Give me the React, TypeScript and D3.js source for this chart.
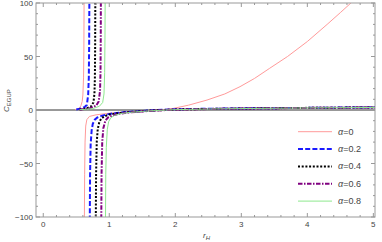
import React from "react";
import * as d3 from "d3";

type Pt = [number, number];

const xTicks = [0, 1, 2, 3, 4, 5];
const yTicks = [-100, -50, 0, 50, 100];
const legendLabels = ["α=0", "α=0.2", "α=0.4", "α=0.6", "α=0.8"];

// α=0
const a0Left: Pt[] = [[0.48, 0.3], [0.52, 1], [0.55, 2], [0.57, 4], [0.59, 8], [0.6, 14], [0.61, 30], [0.615, 55], [0.619, 110]];
const a0Right: Pt[] = [[0.622, -110], [0.627, -60], [0.633, -30], [0.643, -15], [0.66, -9], [0.7, -6], [0.8, -4.5], [1.0, -3], [1.2, -2.2], [1.4, -1.5], [1.6, -0.7], [1.77, 0], [1.97, 1.5], [2.2, 4.5], [2.48, 9.3], [2.75, 15], [2.98, 21.8], [3.2, 29.5], [3.43, 39], [3.7, 50], [4.0, 64], [4.3, 80], [4.5, 91], [4.66, 100], [4.72, 104]];
// α=0.2
const a2Left: Pt[] = [[0.5, 0.4], [0.58, 1.6], [0.63, 3], [0.66, 4.7], [0.68, 14], [0.69, 30], [0.695, 60], [0.699, 110]];
const a2Right: Pt[] = [[0.704, -110], [0.709, -60], [0.718, -32], [0.733, -19], [0.75, -13], [0.78, -9], [0.82, -7], [0.88, -5.5], [0.95, -4.3], [1.05, -3.2], [1.2, -2.2], [1.4, -1.3], [1.6, -0.5], [1.8, 0.2], [2.0, 0.6], [2.3, 1.0], [2.7, 1.3], [3.2, 1.6], [3.7, 1.8], [4.2, 2.1], [4.6, 2.3], [5.03, 2.5]];
// α=0.4
const a4Left: Pt[] = [[0.55, 0.5], [0.65, 1.5], [0.72, 3], [0.76, 7], [0.775, 15], [0.782, 30], [0.786, 60], [0.789, 110]];
const a4Right: Pt[] = [[0.795, -110], [0.8, -60], [0.81, -30], [0.825, -18], [0.85, -11], [0.88, -8], [0.92, -6], [1.0, -4.2], [1.1, -3.2], [1.25, -2.2], [1.45, -1.3], [1.65, -0.5], [1.85, 0.1], [2.1, 0.6], [2.5, 1.0], [3.0, 1.4], [3.5, 1.7], [4.0, 2.0], [4.5, 2.2], [5.03, 2.4]];
// α=0.6
const a6Left: Pt[] = [[0.55, 0.3], [0.7, 1.5], [0.8, 4], [0.84, 8], [0.86, 18], [0.867, 35], [0.871, 70], [0.873, 110]];
const a6Right: Pt[] = [[0.878, -110], [0.883, -60], [0.893, -30], [0.91, -17], [0.94, -10], [0.98, -7], [1.05, -5], [1.15, -3.5], [1.3, -2.3], [1.5, -1.3], [1.7, -0.5], [1.9, 0.1], [2.2, 0.6], [2.6, 1.0], [3.1, 1.4], [3.6, 1.7], [4.1, 2.0], [4.6, 2.2], [5.03, 2.4]];
// α=0.8
const a8Left: Pt[] = [[0.55, 0.2], [0.75, 1.3], [0.85, 3.5], [0.9, 7], [0.92, 15], [0.93, 35], [0.935, 70], [0.938, 110]];
const a8Right: Pt[] = [[0.942, -110], [0.947, -60], [0.955, -35], [0.97, -18], [0.99, -11], [1.02, -7.5], [1.08, -5], [1.18, -3.3], [1.32, -2.2], [1.5, -1.3], [1.7, -0.5], [1.9, 0.1], [2.2, 0.6], [2.6, 1.0], [3.1, 1.4], [3.6, 1.7], [4.1, 2.0], [4.6, 2.2], [5.03, 2.4]];

const seriesData: Pt[][][] = [
  [a0Left, a0Right],
  [a2Left, a2Right],
  [a4Left, a4Right],
  [a6Left, a6Right],
  [a8Left, a8Right],
];

const styles = [
  { stroke: "#ff9a9a", width: 1, dash: "" },
  { stroke: "#1a1aff", width: 2, dash: "5,2.2" },
  { stroke: "#000000", width: 2, dash: "2,1.7" },
  { stroke: "#800080", width: 2, dash: "4.5,1.5,1.5,1.5" },
  { stroke: "#8ee88e", width: 1, dash: "" },
];

const W = 382, H = 242;
const left = 36, right = 375, top = 3, bottom = 217;

export default function App() {
  const x = d3.scaleLinear().domain([-0.11, 5.025]).range([left, right]);
  const y = d3.scaleLinear().domain([-100, 100]).range([bottom, top]);
  const line = d3.line<Pt>().x((d) => x(d[0])).y((d) => y(d[1]));
  const xMinor = d3.range(0, 5.01, 0.2).filter((v) => Math.abs(v - Math.round(v)) > 1e-6);
  const yMinor = d3.range(-100, 100.1, 10).filter((v) => v % 50 !== 0);
  const font = "Liberation Sans, Arial, sans-serif";
  const tickCol = "#999";
  const labCol = "#444";
  return (
    <svg width={W} height={H} style={{ position: "absolute", left: 0, top: 0 }} fontFamily={font}>
      <defs>
        <clipPath id="plot">
          <rect x={left} y={top} width={right - left} height={bottom - top} />
        </clipPath>
      </defs>
      <rect x={0} y={0} width={W} height={H} fill="#fff" />
      {/* zero axis */}
      <line x1={left} x2={right} y1={y(0)} y2={y(0)} stroke="#333" strokeWidth={1} />
      <g clipPath="url(#plot)" fill="none">
        {seriesData.map((branches, i) =>
          branches.map((b, j) => (
            <path key={`${i}-${j}`} d={line(b) || ""} stroke={styles[i].stroke} strokeWidth={styles[i].width} strokeDasharray={styles[i].dash} />
          ))
        )}
      </g>
      {/* frame */}
      <rect x={left} y={top} width={right - left} height={bottom - top} fill="none" stroke={tickCol} strokeWidth={1} />
      {xTicks.map((t) => (
        <g key={`xt${t}`}>
          <line x1={x(t)} x2={x(t)} y1={bottom} y2={bottom - 4} stroke={tickCol} />
          <line x1={x(t)} x2={x(t)} y1={top} y2={top + 4} stroke={tickCol} />
          <text x={x(t)} y={bottom + 10} textAnchor="middle" fontSize={8} fill={labCol}>{t}</text>
        </g>
      ))}
      {xMinor.map((t) => (
        <g key={`xm${t}`}>
          <line x1={x(t)} x2={x(t)} y1={bottom} y2={bottom - 2} stroke={tickCol} />
          <line x1={x(t)} x2={x(t)} y1={top} y2={top + 2} stroke={tickCol} />
        </g>
      ))}
      {yTicks.map((t) => (
        <g key={`yt${t}`}>
          <line x1={left} x2={left + 4} y1={y(t)} y2={y(t)} stroke={tickCol} />
          <line x1={right} x2={right - 4} y1={y(t)} y2={y(t)} stroke={tickCol} />
          <text x={left - 3} y={y(t) + 3} textAnchor="end" fontSize={8} fill={labCol}>{t < 0 ? `\u2212${-t}` : t}</text>
        </g>
      ))}
      {yMinor.map((t) => (
        <g key={`ym${t}`}>
          <line x1={left} x2={left + 2} y1={y(t)} y2={y(t)} stroke={tickCol} />
          <line x1={right} x2={right - 2} y1={y(t)} y2={y(t)} stroke={tickCol} />
        </g>
      ))}
      {/* axis labels */}
      <text x={203} y={238} fontSize={8} fill={labCol} fontStyle="italic">
        r<tspan fontSize={6} dy={2}>H</tspan>
      </text>
      <text transform="translate(9,112) rotate(-90)" fontSize={8} fill={labCol} fontStyle="italic">
        C<tspan fontSize={6} dy={2} fontStyle="normal">EGUP</tspan>
      </text>
      {/* legend */}
      {legendLabels.map((lab, i) => {
        const ly = 131.7 + i * 17.35;
        return (
          <g key={lab}>
            <line x1={298} x2={332} y1={ly} y2={ly} stroke={styles[i].stroke} strokeWidth={styles[i].width} strokeDasharray={styles[i].dash} />
            <text x={338} y={ly + 3} fontSize={9} fill={labCol}>
              <tspan fontStyle="italic">α</tspan>{lab.slice(1)}
            </text>
          </g>
        );
      })}
    </svg>
  );
}
